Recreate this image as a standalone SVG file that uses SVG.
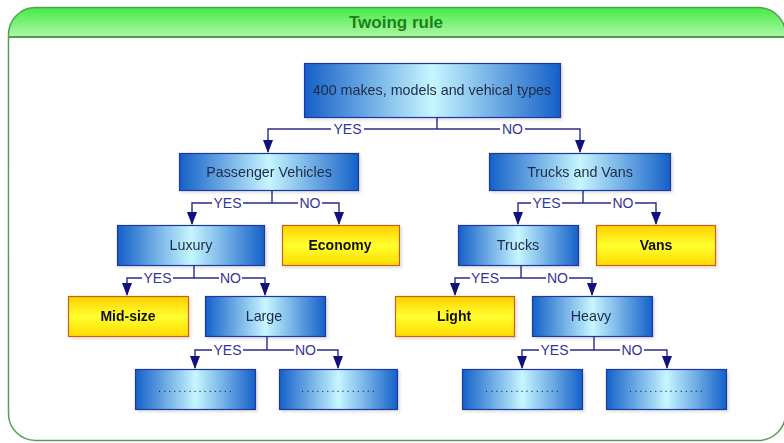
<svg xmlns="http://www.w3.org/2000/svg" width="784" height="443" viewBox="0 0 784 443">
<defs>
<linearGradient id="gHead" x1="0" y1="0" x2="0" y2="1">
<stop offset="0" stop-color="#45ea45"/>
<stop offset="1" stop-color="#b0f8a8"/>
</linearGradient>
<linearGradient id="gBlue" x1="0" y1="0" x2="1" y2="0">
<stop offset="0" stop-color="#1560c8"/>
<stop offset="0.5" stop-color="#c6f6ff"/>
<stop offset="1" stop-color="#1560c8"/>
</linearGradient>
<linearGradient id="gYellow" x1="0" y1="0" x2="0" y2="1">
<stop offset="0" stop-color="#ffd000"/>
<stop offset="0.5" stop-color="#ffff30"/>
<stop offset="1" stop-color="#ffda00"/>
</linearGradient>
<clipPath id="frameClip"><rect x="8.5" y="7.5" width="777" height="433" rx="27"/></clipPath>
<marker id="arr" markerUnits="userSpaceOnUse" markerWidth="13" markerHeight="11" refX="12" refY="5" orient="auto">
<path d="M0,0 L13,5 L0,10 z" fill="#10107e"/>
</marker>
<filter id="sh" x="-10%" y="-10%" width="130%" height="140%">
<feDropShadow dx="2" dy="2" stdDeviation="1.5" flood-color="#000" flood-opacity="0.12"/>
</filter>
</defs>
<style>
.blue{fill:url(#gBlue);stroke:#2436a0;stroke-width:1.2}
.yel{fill:url(#gYellow);stroke:#c8601c;stroke-width:1.2}
.t{font-family:"Liberation Sans",Arial,sans-serif;font-size:14.3px;fill:#1e2a48;text-anchor:middle}
.tb{font-family:"Liberation Sans",Arial,sans-serif;font-size:14px;font-weight:bold;fill:#111;text-anchor:middle}
.dots{font-family:"Liberation Sans",Arial,sans-serif;font-size:11px;fill:#1e2a68;text-anchor:middle;letter-spacing:2px}
.ln{stroke:#2a2a8e;stroke-width:1.4;fill:none}
.ar{stroke:#2a2a8e;stroke-width:1.4;fill:none;marker-end:url(#arr)}
.lb{font-family:"Liberation Sans",Arial,sans-serif;font-size:14px;fill:#34349a;text-anchor:middle}
</style>
<rect width="784" height="443" fill="#fff"/>
<g id="frame">
<rect x="8.5" y="7.5" width="777" height="30" fill="url(#gHead)" clip-path="url(#frameClip)"/>
<line x1="8.5" y1="37" x2="785" y2="37" stroke="#4a9e4a" stroke-width="2"/>
<rect x="8.5" y="7.5" width="777" height="433" rx="27" fill="none" stroke="#55a055" stroke-width="1.5"/>
<text x="396" y="28" font-family="'Liberation Sans',Arial,sans-serif" font-size="17" font-weight="bold" fill="#1d801d" text-anchor="middle">Twoing rule</text>
</g>
<g id="connectors">
<line class="ln" x1="437" y1="117" x2="437" y2="129"/>
<path class="ar" d="M331,129 H268 V152"/>
<line class="ln" x1="364" y1="129" x2="500" y2="129"/>
<path class="ar" d="M525,129 H580 V152"/>
<text class="lb" x="347.5" y="134">YES</text>
<text class="lb" x="512.5" y="134">NO</text>
<line class="ln" x1="272" y1="190" x2="272" y2="203"/>
<path class="ar" d="M212,203 H192 V224"/>
<line class="ln" x1="243" y1="203" x2="298" y2="203"/>
<path class="ar" d="M322,203 H339 V224"/>
<text class="lb" x="227.5" y="208">YES</text>
<text class="lb" x="310" y="208">NO</text>
<line class="ln" x1="583" y1="190" x2="583" y2="203"/>
<path class="ar" d="M531,203 H518 V224"/>
<line class="ln" x1="562" y1="203" x2="611" y2="203"/>
<path class="ar" d="M635,203 H656 V224"/>
<text class="lb" x="546.5" y="208">YES</text>
<text class="lb" x="623" y="208">NO</text>
<line class="ln" x1="194" y1="265" x2="194" y2="278"/>
<path class="ar" d="M142,278 H127 V295"/>
<line class="ln" x1="173" y1="278" x2="219" y2="278"/>
<path class="ar" d="M242,278 H265 V295"/>
<text class="lb" x="157.5" y="283">YES</text>
<text class="lb" x="230.5" y="283">NO</text>
<line class="ln" x1="521" y1="265" x2="521" y2="278"/>
<path class="ar" d="M470,278 H455 V295"/>
<line class="ln" x1="500" y1="278" x2="546" y2="278"/>
<path class="ar" d="M569,278 H592 V295"/>
<text class="lb" x="485" y="283">YES</text>
<text class="lb" x="557.5" y="283">NO</text>
<line class="ln" x1="267" y1="336" x2="267" y2="350"/>
<path class="ar" d="M212,350 H195 V368"/>
<line class="ln" x1="243" y1="350" x2="294" y2="350"/>
<path class="ar" d="M317,350 H338 V368"/>
<text class="lb" x="227.5" y="355">YES</text>
<text class="lb" x="305.5" y="355">NO</text>
<line class="ln" x1="594" y1="336" x2="594" y2="350"/>
<path class="ar" d="M539,350 H522 V368"/>
<line class="ln" x1="570" y1="350" x2="620" y2="350"/>
<path class="ar" d="M644,350 H667 V368"/>
<text class="lb" x="554.5" y="355">YES</text>
<text class="lb" x="632" y="355">NO</text>
</g>
<g id="root" filter="url(#sh)"><rect class="blue" x="304.5" y="63.5" width="256" height="54"/><text class="t" x="432" y="95">400 makes, models and vehical types</text></g>
<g id="passenger" filter="url(#sh)"><rect class="blue" x="179.5" y="153.5" width="179" height="37"/><text class="t" x="269" y="176.5">Passenger Vehicles</text></g>
<g id="trucksvans" filter="url(#sh)"><rect class="blue" x="489.5" y="153.5" width="181" height="37"/><text class="t" x="580" y="176.5">Trucks and Vans</text></g>
<g id="luxury" filter="url(#sh)"><rect class="blue" x="117.5" y="225.5" width="147" height="40"/><text class="t" x="191" y="250">Luxury</text></g>
<g id="economy" filter="url(#sh)"><rect class="yel" x="282.5" y="225.5" width="117" height="40"/><text class="tb" x="340" y="250">Economy</text></g>
<g id="trucks" filter="url(#sh)"><rect class="blue" x="458.5" y="225.5" width="120" height="40"/><text class="t" x="518" y="250">Trucks</text></g>
<g id="vans" filter="url(#sh)"><rect class="yel" x="596.5" y="225.5" width="119" height="40"/><text class="tb" x="656" y="250">Vans</text></g>
<g id="midsize" filter="url(#sh)"><rect class="yel" x="68.5" y="296.5" width="120" height="40"/><text class="tb" x="128" y="321">Mid-size</text></g>
<g id="large" filter="url(#sh)"><rect class="blue" x="205.5" y="296.5" width="120" height="40"/><text class="t" x="264" y="321">Large</text></g>
<g id="light" filter="url(#sh)"><rect class="yel" x="395.5" y="296.5" width="119" height="40"/><text class="tb" x="454" y="321">Light</text></g>
<g id="heavy" filter="url(#sh)"><rect class="blue" x="532.5" y="296.5" width="120" height="40"/><text class="t" x="591" y="321">Heavy</text></g>
<g id="leaf1" filter="url(#sh)"><rect class="blue" x="135.5" y="369.5" width="120" height="40"/><text class="dots" x="196" y="392">...............</text></g>
<g id="leaf2" filter="url(#sh)"><rect class="blue" x="279.5" y="369.5" width="118" height="40"/><text class="dots" x="339" y="392">...............</text></g>
<g id="leaf3" filter="url(#sh)"><rect class="blue" x="462.5" y="369.5" width="120" height="40"/><text class="dots" x="523" y="392">...............</text></g>
<g id="leaf4" filter="url(#sh)"><rect class="blue" x="606.5" y="369.5" width="120" height="40"/><text class="dots" x="667" y="392">...............</text></g>
</svg>
